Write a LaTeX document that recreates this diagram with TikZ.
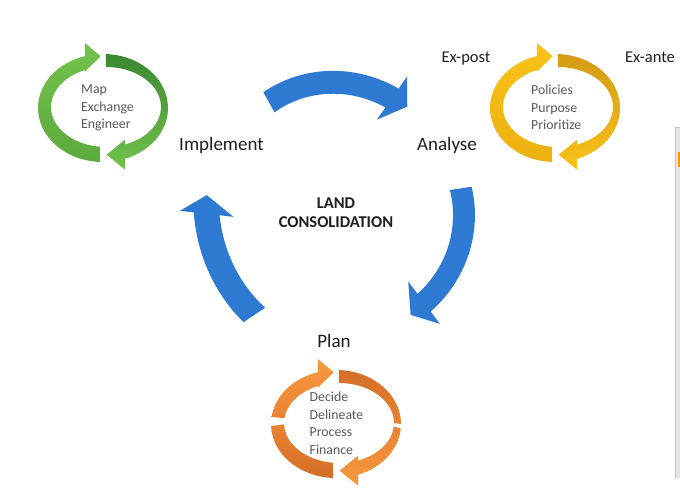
\documentclass[tikz,border=0pt]{standalone}
\usepackage{fontspec}
\setmainfont{Carlito}
\definecolor{arrowblue}{RGB}{46,122,210}
\definecolor{gL}{RGB}{116,194,76}
\definecolor{gM}{RGB}{92,170,60}
\definecolor{gD}{RGB}{58,136,48}
\definecolor{yL}{RGB}{249,194,24}
\definecolor{yM}{RGB}{236,176,16}
\definecolor{yD}{RGB}{212,154,20}
\definecolor{oL}{RGB}{247,154,64}
\definecolor{oM}{RGB}{234,130,50}
\definecolor{oD}{RGB}{212,110,40}
\definecolor{txt}{RGB}{30,30,30}
\definecolor{innertxt}{RGB}{89,89,89}
% curved (spiral) block arrow: cx, cy, a1, a2, r1, r2, half width, head half width, tip angle
\newcommand{\sparrow}[9]{%
  \begin{scope}[shift={(#1,#2)}]
    \fill[arrowblue]
      plot[domain=#3:#4, samples=30, variable=\t] (\t:{#5+(#6-#5)*(\t-(#3))/((#4)-(#3))+#7})
      -- (#4:{#6+#8}) -- (#9:{#6+3}) -- (#4:{#6-#8})
      -- plot[domain=#4:#3, samples=30, variable=\t] (\t:{#5+(#6-#5)*(\t-(#3))/((#4)-(#3))-#7})
      -- cycle;
  \end{scope}}
% ring pieces (local coordinates, outer ellipse at (0,0), inner at (3,-1))
\newcommand{\ulArrow}[4]{%
  \shade[top color=#3, bottom color=#4]
    (#1:65 and 54) arc[start angle=#1, end angle=253.9, x radius=65, y radius=54]
    -- (-18,-65) -- (-2.3,-51.7) -- (-18,-36.5)
    -- ([shift={(3,-1)}]247.5:55 and 40) arc[start angle=247.5, end angle=#2, x radius=55, y radius=40]
    -- cycle;}
\newcommand{\lrArrow}[4]{%
  \shade[top color=#3, bottom color=#4]
    (#1:65 and 54) arc[start angle=#1, end angle=70.2, x radius=65, y radius=54]
    -- (22,61.7) -- (3.7,46.7) -- (22,31.7)
    -- ([shift={(3,-1)}]69.8:55 and 40) arc[start angle=69.8, end angle=#2, x radius=55, y radius=40]
    -- cycle;}
\newcommand{\bandArc}[6]{%
  \shade[top color=#5, bottom color=#6]
    (#1:65 and 54) arc[start angle=#1, end angle=#2, x radius=65, y radius=54]
    -- ([shift={(3,-1)}]#4:55 and 40) arc[start angle=#4, end angle=#3, x radius=55, y radius=40]
    -- cycle;}
\begin{document}
\begin{tikzpicture}[x=1pt,y=-1pt,
  lbl/.style={text=txt, inner sep=0pt, font=\fontsize{19}{22}\selectfont},
  exl/.style={text=txt, inner sep=0pt, font=\fontsize{16.5}{20}\selectfont},
  ctr/.style={text=txt, inner sep=0pt, font=\fontsize{16.5}{20}\selectfont\bfseries},
  inn/.style={text=innertxt, inner sep=0pt, font=\fontsize{13.8}{17}\selectfont}]
\fill[white] (0,0) rectangle (680,494);
\useasboundingbox (0,0) rectangle (680,494);

% blue cycle arrows
\sparrow{322}{198}{-119}{-55}{109.5}{122}{11.5}{26.5}{-47}
\sparrow{351}{205}{-8.6}{53.2}{111}{122}{11}{26.5}{61.5}
\sparrow{377.6}{233}{146.4}{186.4}{148}{172}{13}{27}{192.5}

% green ring (Implement)
\begin{scope}[shift={(103,108)}]
  \ulArrow{92.6}{96.3}{gL}{gM}
  \lrArrow{-87.4}{-90}{gD}{gL}
\end{scope}
% yellow ring (Analyse)
\begin{scope}[shift={(555,108)}]
  \ulArrow{92.6}{96.3}{yL}{yM}
  \lrArrow{-87.4}{-90}{yD}{yL}
\end{scope}
% orange ring (Plan)
\begin{scope}[shift={(336,424)}]
  \ulArrow{187.4}{187}{oL}{oM}
  \bandArc{-87.4}{0}{-90}{0}{oD}{oM}
  \lrArrow{5}{5}{oM}{oL}
  \bandArc{92.6}{177.9}{96.3}{178}{oM}{oD}
\end{scope}

% labels
\node[lbl, anchor=base] (impl) at (221.5,151) {Implement};
\node[lbl, anchor=base] (anal) at (447,151) {Analyse};
\node[lbl, anchor=base] (plan) at (334,347) {Plan};
\node[exl, anchor=base] (expost) at (466,63) {Ex-post};
\node[exl, anchor=base] (exante) at (650,63) {Ex-ante};
\node[ctr, anchor=base] (land) at (336,208.5) {LAND};
\node[ctr, anchor=base] (cons) at (336,228) {CONSOLIDATION};

% ring texts
\node[inn, anchor=base west] (g1) at (81,94) {Map};
\node[inn, anchor=base west] (g2) at (81,111.5) {Exchange};
\node[inn, anchor=base west] (g3) at (81,129) {Engineer};
\node[inn, anchor=base west] (y1) at (531,95) {Policies};
\node[inn, anchor=base west] (y2) at (531,112.5) {Purpose};
\node[inn, anchor=base west] (y3) at (531,130) {Prioritize};
\node[inn, anchor=base west] (o1) at (309.5,401.5) {Decide};
\node[inn, anchor=base west] (o2) at (309.5,419) {Delineate};
\node[inn, anchor=base west] (o3) at (309.5,436.5) {Process};
\node[inn, anchor=base west] (o4) at (309.5,454) {Finance};

% cropped window edge at the right
\fill[gray!20] (675,127) rectangle (680,478);
\draw[gray!45, line width=1] (675.5,127) -- (675.5,478);
\draw[gray!45, line width=1] (675,127.5) -- (680,127.5);
\fill[orange!85!yellow] (678,152) rectangle (680,167);
\end{tikzpicture}
\end{document}
